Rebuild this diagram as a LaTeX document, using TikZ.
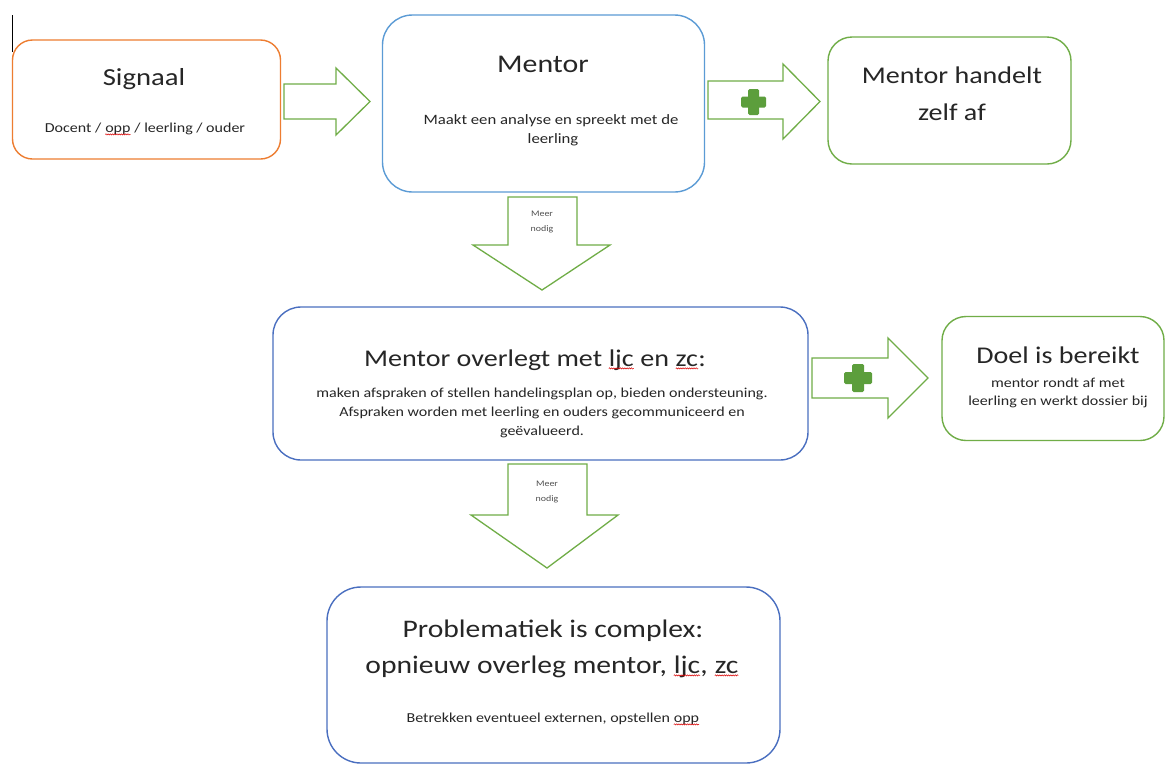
\documentclass[tikz,border=0pt]{standalone}
\usepackage{fontspec}
\setmainfont{Carlito}[FakeStretch=1.17]
\usetikzlibrary{decorations.pathmorphing}
\definecolor{orangeb}{HTML}{ED7D31}
\definecolor{blueb}{HTML}{5B9BD5}
\definecolor{blued}{HTML}{4A6FC0}
\definecolor{greenb}{HTML}{70AD47}
\definecolor{plusg}{HTML}{5C9E3C}
\definecolor{txt}{HTML}{262626}
\newcommand\sq[1]{\tikz[baseline=(w.base)]{\node[inner sep=0pt,outer sep=0pt](w){#1};\draw[red!85!black,line width=0.5pt,decorate,decoration={snake,amplitude=0.6pt,segment length=2.2pt}]([yshift=-2.4pt]w.base west)--([yshift=-2.4pt]w.base east);}}
\tikzset{
  box/.style={draw=#1,line width=1.4pt,fill=white,rounded corners=22pt,inner sep=0pt},
  title/.style={anchor=base,text=txt,font=\fontsize{24}{29}\selectfont,inner sep=0pt},
  sub/.style={anchor=base,text=txt,font=\fontsize{13.7}{16}\selectfont,inner sep=0pt},
  tiny/.style={anchor=base,text=txt!80,font=\fontsize{8.5}{10}\selectfont,inner sep=0pt},
  blockarrow/.style={draw=greenb,line width=1.3pt,fill=white,line join=miter},
  plus/.style={fill=plusg,rounded corners=1.5pt}
}
\begin{document}
\begin{tikzpicture}[x=1pt,y=-1pt]
\useasboundingbox[fill=white] (0,0) rectangle (1166,764);
% cursor line
\draw[black,line width=0.8pt] (12,15) -- (12,52);

% boxes
\node[box=orangeb,rounded corners=20pt,minimum width=268pt,minimum height=119pt] (sig) at (146.5,99.5) {};
\node[box=blueb,rounded corners=30pt,minimum width=322pt,minimum height=177pt] (men) at (543.5,103.5) {};
\node[box=greenb,rounded corners=24pt,minimum width=243pt,minimum height=127pt] (zelf) at (949.5,100.5) {};
\node[box=blued,rounded corners=28pt,minimum width=535pt,minimum height=153pt] (over) at (540.5,383.5) {};
\node[box=greenb,rounded corners=24pt,minimum width=222pt,minimum height=124pt] (doel) at (1053,378.5) {};
\node[box=blued,rounded corners=34pt,minimum width=453pt,minimum height=176pt] (prob) at (553.5,675) {};

% texts
\node[title,font=\fontsize{24.5}{29}\selectfont] (t1) at (144,85) {Signaal};
\node[sub] (s1) at (145,132) {Docent / \sq{opp} / leerling / ouder};
\node[title,font=\fontsize{25.5}{30}\selectfont] (t2) at (543,72) {Mentor};
\node[sub,font=\fontsize{14.3}{17}\selectfont] (s2a) at (551,124) {Maakt een analyse en spreekt met de};
\node[sub,font=\fontsize{14.3}{17}\selectfont] (s2b) at (553,143) {leerling};
\node[title] (t3a) at (952,83) {Mentor handelt};
\node[title] (t3b) at (952,120) {zelf af};
\node[title] (t4) at (535,366) {Mentor overlegt met \sq{ljc} en \sq{zc}:};
\node[sub] (s4a) at (542,397) {maken afspraken of stellen handelingsplan op, bieden ondersteuning.};
\node[sub] (s4b) at (542,416) {Afspraken worden met leerling en ouders gecommuniceerd en};
\node[sub] (s4c) at (542,435) {geëvalueerd.};
\node[title] (t5) at (1058,363) {Doel is bereikt};
\node[sub] (s5a) at (1058,387) {mentor rondt af met};
\node[sub] (s5b) at (1058,405) {leerling en werkt dossier bij};
\node[title,font=\fontsize{25.3}{30}\selectfont] (t6a) at (553,637) {Problematiek is complex:};
\node[title,font=\fontsize{25.3}{30}\selectfont] (t6b) at (552,673) {opnieuw overleg mentor, \sq{ljc}, \sq{zc}};
\node[sub] (s6) at (553,722) {Betrekken eventueel externen, opstellen \sq{opp}};

% block arrow 1: signaal -> mentor
\draw[blockarrow] (284,84) -- (336,84) -- (336,68) -- (370,101.5) -- (336,135) -- (336,119) -- (284,119) -- cycle;
% block arrow 2: mentor -> zelf (plus)
\draw[blockarrow] (708,81) -- (783,81) -- (783,64) -- (820,101.5) -- (783,139) -- (783,119) -- (708,119) -- cycle;
\path[plus] (748,89) rectangle (759,115);
\path[plus] (741,96.5) rectangle (766,107.5);
% block arrow 3: overleg -> doel (plus)
\draw[blockarrow] (812,358) -- (888,358) -- (888,338) -- (928,378) -- (888,418) -- (888,398) -- (812,398) -- cycle;
\path[plus] (852,364) rectangle (864,392);
\path[plus] (844,372) rectangle (872,384);
% down arrow 1
\draw[blockarrow] (508,197) -- (577,197) -- (577,245) -- (610,245) -- (542,290) -- (473,245) -- (508,245) -- cycle;
\node[tiny] (m1a) at (542,216) {Meer};
\node[tiny] (m1b) at (542,231) {nodig};
% down arrow 2
\draw[blockarrow] (508,464) -- (587,464) -- (587,515) -- (618,515) -- (547,568) -- (471,515) -- (508,515) -- cycle;
\node[tiny] (m2a) at (547,486) {Meer};
\node[tiny] (m2b) at (547,501) {nodig};
\end{tikzpicture}
\end{document}
